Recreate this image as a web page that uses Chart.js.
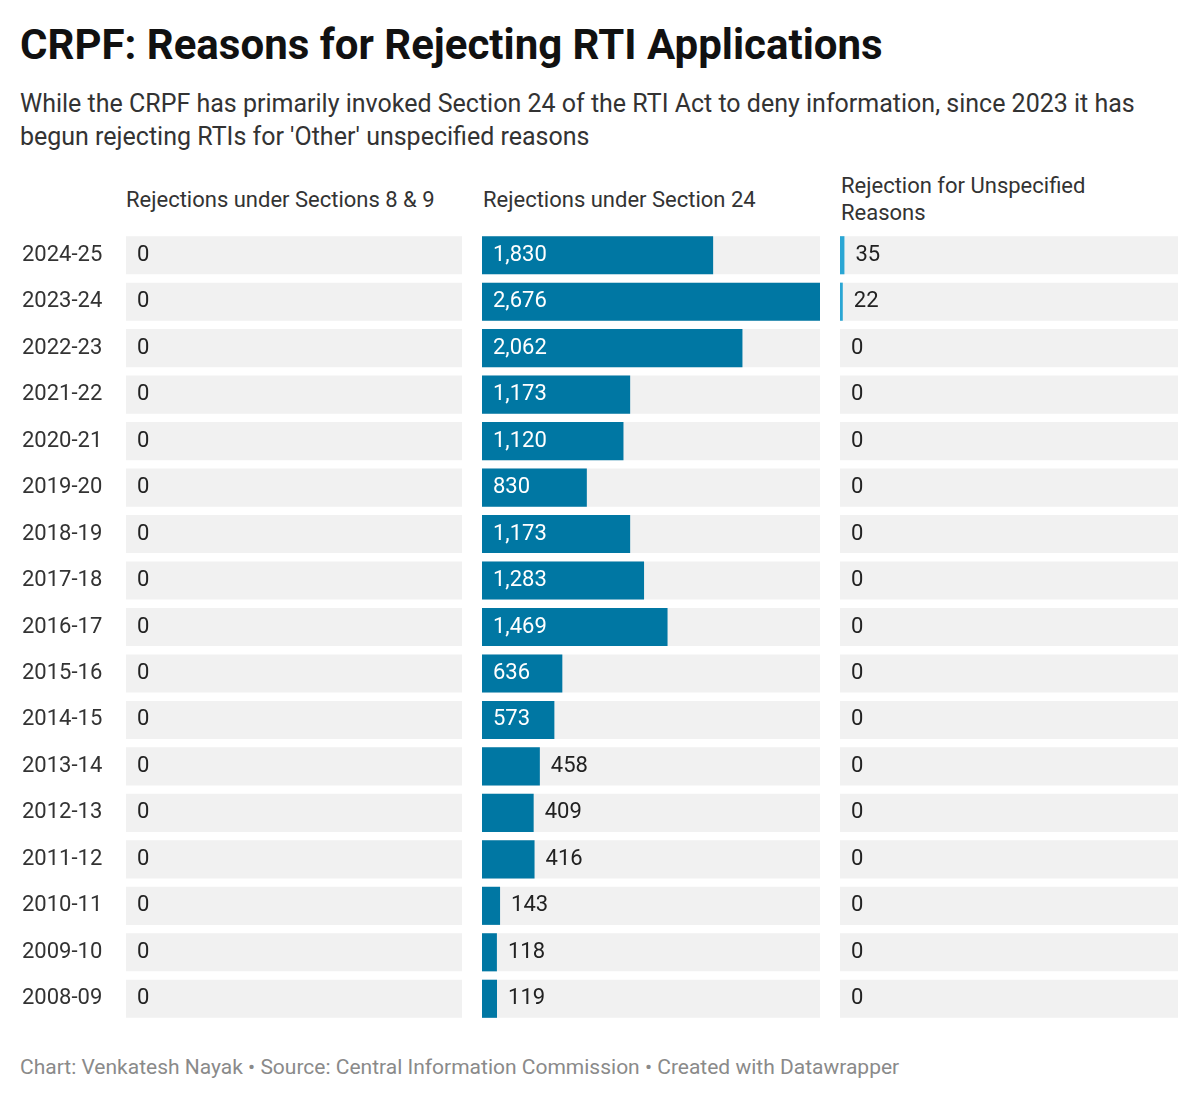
<!DOCTYPE html>
<html>
<head>
<meta charset="utf-8">
<script src="https://cdn.jsdelivr.net/npm/chart.js@4"></script>
<style>
  body { margin: 0; background: #fff; font-family: Roboto, sans-serif; color: #222; }
  #wrap { position: relative; width: 1200px; height: 1101px; }
  h1 { position: absolute; left: 20px; top: 20px; margin: 0; font-size: 42px; font-weight: 700; color: #111; }
  .sub { position: absolute; left: 20px; top: 87px; width: 1175px; font-size: 25px; line-height: 33px; color: #333; }
  .head { position: absolute; font-size: 22px; line-height: 27px; color: #333; }
  .foot { position: absolute; left: 20px; top: 1055px; font-size: 21px; color: #8a8a8a; }
  canvas { position: absolute; }
</style>
</head>
<body>
<div id="wrap">
  <h1>CRPF: Reasons for Rejecting RTI Applications</h1>
  <div class="sub">While the CRPF has primarily invoked Section 24 of the RTI Act to deny information, since 2023 it has begun rejecting RTIs for 'Other' unspecified reasons</div>
  <div class="head" style="left:126px; top:186px;">Rejections under Sections 8 &amp; 9</div>
  <div class="head" style="left:483px; top:186px;">Rejections under Section 24</div>
  <div class="head" style="left:841px; top:172px;">Rejection for Unspecified<br>Reasons</div>
  <div style="position:absolute; left:20px; top:232px; width:442px; height:790px;"><canvas id="c1"></canvas></div>
  <div style="position:absolute; left:482px; top:232px; width:338px; height:790px;"><canvas id="c2"></canvas></div>
  <div style="position:absolute; left:840px; top:232px; width:338px; height:790px;"><canvas id="c3"></canvas></div>
  <div class="foot">Chart: Venkatesh Nayak • Source: Central Information Commission • Created with Datawrapper</div>
</div>
<script>
const years = ["2024-25", "2023-24", "2022-23", "2021-22", "2020-21", "2019-20", "2018-19", "2017-18",
  "2016-17", "2015-16", "2014-15", "2013-14", "2012-13", "2011-12", "2010-11", "2009-10", "2008-09"];
const sections89 = [0, 0, 0, 0, 0, 0, 0, 0, 0, 0, 0, 0, 0, 0, 0, 0, 0];
const section24 = [1830, 2676, 2062, 1173, 1120, 830, 1173, 1283, 1469, 636, 573, 458, 409, 416, 143, 118, 119];
const unspecified = [35, 22, 0, 0, 0, 0, 0, 0, 0, 0, 0, 0, 0, 0, 0, 0, 0];
const scaleMax = 2676;

const valueLabels = {
  id: "valueLabels",
  afterDatasetsDraw(chart, args, opts) {
    const ctx = chart.ctx;
    const meta = chart.getDatasetMeta(1);
    const data = chart.data.datasets[1].data;
    const x0 = chart.scales.x.getPixelForValue(0);
    ctx.save();
    ctx.font = "22px Roboto";
    ctx.textBaseline = "middle";
    meta.data.forEach((bar, i) => {
      const v = data[i];
      const w = bar.x - x0;
      const txt = v.toLocaleString("en-US");
      const tw = ctx.measureText(txt).width;
      if (w > tw + 25) {
        ctx.fillStyle = "#fff";
        ctx.fillText(txt, x0 + 11, bar.y);
      } else {
        ctx.fillStyle = "#222";
        ctx.fillText(txt, x0 + Math.max(w, 0) + 11, bar.y);
      }
      if (opts.years) {
        ctx.fillStyle = "#333";
        ctx.fillText(years[i], 2, bar.y);
      }
    });
    ctx.restore();
  }
};

function makeChart(id, values, color, showYears) {
  new Chart(document.getElementById(id), {
    type: "bar",
    data: {
      labels: years,
      datasets: [
        { data: years.map(() => scaleMax), backgroundColor: "#f1f1f1", grouped: false, order: 2 },
        { data: values, backgroundColor: color, grouped: false, order: 1 }
      ]
    },
    options: {
      indexAxis: "y",
      responsive: true,
      maintainAspectRatio: false,
      animation: false,
      layout: { padding: { left: showYears ? 106 : 0 } },
      datasets: { bar: { categoryPercentage: 0.82, barPercentage: 1 } },
      plugins: { legend: { display: false }, tooltip: { enabled: false }, valueLabels: { years: showYears } },
      scales: {
        x: { display: false, min: 0, max: scaleMax },
        y: { display: false }
      }
    },
    plugins: [valueLabels]
  });
}

makeChart("c1", sections89, "#0077a3", true);
makeChart("c2", section24, "#0077a3", false);
makeChart("c3", unspecified, "#2aa6d4", false);
</script>
</body>
</html>
